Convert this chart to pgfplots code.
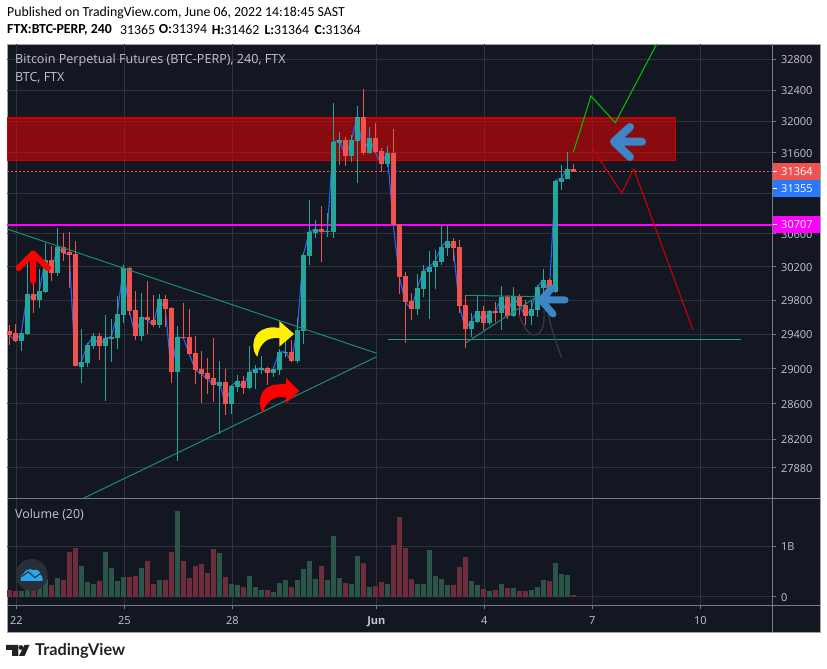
\documentclass[border=0pt]{standalone}
\usepackage{pgfplots}
\usepackage{pgfplotstable}
\usepackage{fontspec}
\pgfplotsset{compat=1.18}
\setmainfont{Open Sans}
\newfontfamily\headfont{Carlito}
\newfontfamily\logofont{Lato}
\definecolor{bg}{HTML}{131722}
\definecolor{gridc}{HTML}{2E323D}
\definecolor{axc}{HTML}{787B86}
\definecolor{txt}{HTML}{C3C6CE}
\definecolor{upc}{HTML}{26A69A}
\definecolor{dnc}{HTML}{EF5350}
\definecolor{upv}{HTML}{2A5548}
\definecolor{dnv}{HTML}{6E2D3B}
\definecolor{trend}{HTML}{1E8A77}
\pgfplotstableread{
i O H L C V
-1 29439 29509 29275 29392 .13
0 29416 29521 29314 29322 .11
1 29326 29420 29210 29416 .11
2 29404 30302 29392 29876 .17
3 29876 30214 29654 29805 .13
4 29805 30174 29714 29911 .33
5 29899 30492 29892 30283 .35
6 30283 30451 30035 30127 .23
7 30127 30670 30090 30440 .37
8 30440 30606 30271 30367 .33
9 30379 30617 29947 30343 .89
10 30355 30512 29031 29035 .97
11 29020 29462 28829 29078 .61
12 29067 29295 29020 29275 .29
13 29264 29416 29229 29380 .25
14 29380 29412 29101 29264 .31
15 29264 29627 28630 29357 .89
16 29345 29580 29078 29369 .57
17 29357 29851 29229 29639 .31
18 29627 30222 29533 30186 .39
19 30186 30199 29627 29674 .39
20 29686 29911 29334 29380 .41
21 29380 29888 29322 29604 .57
22 29604 30031 29404 29568 .71
23 29568 29864 29490 29509 .25
24 29509 29876 29474 29816 .33
25 29816 29864 29490 29697 .33
26 29710 29722 28837 28962 .89
27 28962 29497 27953 29369 1.70
28 29369 29769 29353 29357 .71
29 29369 29697 29159 29171 .37
30 29183 29380 28825 28986 .61
31 28997 29205 28608 28940 .65
32 28951 29124 28710 28882 .47
33 28893 29357 28619 28813 .95
34 28801 29090 28257 28847 .87
35 28847 28997 28471 28596 .39
36 28596 28813 28483 28801 .25
37 28790 28928 28733 28859 .23
38 28859 28916 28710 28779 .19
39 28779 29264 28767 28962 .41
40 28951 29043 28767 28997 .19
41 28986 29147 28940 29009 .13
42 29009 29017 28813 28951 .13
43 28951 29021 28905 28997 .09
44 28986 29229 28928 29194 .27
45 29183 29486 29136 29194 .33
46 29194 29334 29082 29090 .19
47 29090 29592 29067 29451 .33
48 29439 30363 29287 30343 .55
49 30331 31014 30222 30621 .71
50 30610 30768 30549 30658 .35
51 30658 30940 30258 30621 .61
52 30621 30854 30561 30634 .33
53 30621 32232 30549 31736 1.21
54 31724 31862 31448 31762 .37
55 31762 31800 31436 31561 .27
56 31561 31825 31485 31762 .25
57 31749 32194 31224 32053 .81
58 32053 32410 31573 31599 .67
59 31599 31926 31586 31787 .19
60 31787 31977 31599 31610 .21
61 31623 31657 31360 31461 .29
62 31461 31687 31423 31599 .25
63 31599 31900 30704 30707 1.03
64 30719 30719 29876 30079 1.58
65 30090 30138 29303 29780 .97
66 29793 29888 29568 29697 .35
67 29697 30114 29627 29947 .25
68 29935 30222 29840 30150 .25
69 30138 30391 29580 30199 .93
70 30199 30404 29935 30271 .41
71 30258 30707 30222 30440 .35
72 30427 30695 30331 30512 .23
73 30512 30549 30271 30427 .23
74 30440 30525 29646 29734 .59
75 29745 29868 29241 29462 .79
76 29462 29651 29369 29556 .31
77 29544 29864 29533 29674 .23
78 29674 29734 29451 29533 .15
79 29533 29686 29509 29674 .11
80 29674 29780 29544 29651 .13
81 29651 29971 29451 29840 .25
82 29840 29864 29576 29615 .17
83 29615 29959 29604 29851 .17
84 29851 29876 29627 29734 .11
85 29745 29805 29509 29615 .11
86 29615 29805 29509 29697 .13
87 29686 29983 29604 29959 .19
88 29947 30174 29864 30043 .33
89 30043 30054 29793 29899 .31
90 29899 31262 29888 31249 .67
91 31236 31448 31138 31286 .45
92 31273 31610 31273 31398 .43
93 31394 31462 31364 31364 .03
}\candles
\pgfplotsset{
  panel/.style={
    scale only axis, width=765pt, xmin=-1.383, xmax=126.117,
    axis line style={draw=none},
    grid=major, grid style={gridc, line width=0.9pt},
    xtick={0.17,18.17,36.17,60.17,78.17,96.17,114.17},
    tick style={axc, line width=0.8pt},
    clip=true,
    scaled y ticks=false,
    ytick scale label code/.code={},
  },
}
\begin{document}
\begin{tikzpicture}[x=1pt,y=1pt]
\path (0,0) rectangle (827,669);
\begin{scope}[y=-1pt,yshift=669pt]
\fill[bg] (7,44) rectangle (820,632);
\draw[axc!70,line width=0.8pt] (7,44) -- (820,44) -- (820,632) -- (7,632) -- cycle;
\end{scope}
% price panel: logarithmic price scale, as in the reference
\begin{axis}[panel, at={(7pt,171pt)}, anchor=south west, height=454pt,
  y coord trafo/.code={\begingroup\pgfkeys{/pgf/fpu,/pgf/fpu/output format=fixed}\pgfmathparse{ln(#1)*1000}\pgfmathsmuggle\pgfmathresult\endgroup},
  ymin=27546, ymax=33000,
  xticklabels={}, xtick style={draw=none},
  ytick={32800,32400,32000,31600,31100,30600,30200,29800,29400,29000,28600,28200,27880},
  yticklabels={32800,32400,32000,31600,,30600,30200,29800,29400,29000,28600,28200,27880},
  ytick pos=right, yticklabel pos=right, tick align=outside,
  major tick length=4pt,
  yticklabel style={font=\fontsize{11}{13}\selectfont, text=txt, anchor=west, xshift=1.5pt, yshift=-0.5pt},
]
\addplot[draw=red!80!black, line width=1.2pt, fill=red, fill opacity=.5] coordinates {(-1.383,32040)(110.07,32040)(110.07,31502)(-1.383,31502)} --cycle;
\addplot[dnc, line width=0.8pt, dash pattern=on 2pt off 2pt] coordinates {(-1.383,31364)(126.117,31364)};
\addplot[line width=1.2pt, color={rgb,1:red,1;green,0;blue,1}] coordinates {(-1.383,30707)(126.117,30707)};
\addplot[line width=1.1pt, color={rgb,255:red,41;green,98;blue,255}] table[x=i,y=C] {\candles};
\pgfplotsinvokeforeach{0,...,94}{
  \pgfplotstablegetelem{#1}{i}\of\candles \let\Xi\pgfplotsretval
  \pgfplotstablegetelem{#1}{O}\of\candles \let\Xo\pgfplotsretval
  \pgfplotstablegetelem{#1}{H}\of\candles \let\Xh\pgfplotsretval
  \pgfplotstablegetelem{#1}{L}\of\candles \let\Xl\pgfplotsretval
  \pgfplotstablegetelem{#1}{C}\of\candles \let\Xc\pgfplotsretval
  \ifnum\Xc<\Xo\relax \def\cc{dnc}\let\Xbl\Xc\let\Xbh\Xo \else \def\cc{upc}\let\Xbl\Xo\let\Xbh\Xc \fi
  \edef\temp{\noexpand\addplot[forget plot, \cc, line width=1pt] coordinates {(\Xi,\Xl)(\Xi,\Xh)};
             \noexpand\addplot[forget plot, \cc, line width=4.8pt] coordinates {(\Xi,\Xbl)(\Xi,\Xbh)};}
  \temp
}
\end{axis}
% volume panel
\begin{axis}[panel, at={(7pt,64pt)}, anchor=south west, height=107pt,
  ymin=-0.165, ymax=1.958,
  xticklabels={22,25,28,\textbf{Jun},4,7,10},
  xtick pos=bottom, tick align=outside, major tick length=4pt,
  xticklabel style={font=\fontsize{11}{13}\selectfont, text=txt, yshift=-4pt},
  ytick={0,1}, yticklabels={0,1B},
  ytick pos=right, yticklabel pos=right,
  yticklabel style={font=\fontsize{11}{13}\selectfont, text=txt, anchor=west, xshift=1.5pt, yshift=-0.5pt},
]
\addplot[ycomb, upv, line width=5pt, restrict expr to domain={\thisrow{C}-\thisrow{O}}{0:100000}] table[x=i,y=V] {\candles};
\addplot[ycomb, dnv, line width=5pt, restrict expr to domain={\thisrow{C}-\thisrow{O}}{-100000:-0.001}] table[x=i,y=V] {\candles};
\end{axis}
% overlays in reference pixel coordinates
\begin{scope}[y=-1pt,yshift=669pt]
\draw[axc,line width=0.9pt] (7,498) -- (820,498);
\draw[axc,line width=0.9pt] (7,605) -- (820,605);
\draw[axc,line width=0.9pt] (772.3,44) -- (772.3,632);
\begin{scope}
\clip (7,44) rectangle (772,498);
\draw[trend,line width=1pt] (7,229) -- (376.7,353.3);
\draw[trend,line width=1pt] (84,498) -- (376.7,356.7);
\draw[color={rgb,255:red,34;green,160;blue,142},line width=1pt] (388,339.3) -- (741,339.3);
\draw[trend,line width=1pt] (466,342.7) -- (536.7,296.7);
\draw[trend,line width=1pt] (466,295.3) -- (536,296.7);
\draw[color={rgb,255:red,0;green,190;blue,0},line width=1.1pt] (573.3,152.3) -- (591,96) -- (615.3,122.7) -- (656.7,44);
\draw[color={rgb,255:red,205;green,0;blue,0},line width=1.1pt] (591.7,147.3) -- (621.7,193) -- (633.7,169) -- (693,330);
\draw[color={rgb,255:red,58;green,60;blue,64},line width=1.2pt] (519,315) .. controls (525,330) and (530,335) .. (533,335) .. controls (540,335) and (545,330) .. (544,310);
\draw[color={rgb,255:red,58;green,60;blue,64},line width=1.2pt] (548,314) -- (553,333) -- (561.5,358);
% arrows
\draw[red,line width=6pt,line cap=round,line join=round] (18.5,268) -- (33,253.5) -- (48,268) (33,253.5) -- (33,281);
\draw[color={rgb,255:red,61;green,133;blue,198},line width=8pt,line cap=round,line join=round] (630,127) -- (614,141.7) -- (630,157) (614,141.7) -- (642,141.7);
\draw[color={rgb,255:red,61;green,133;blue,198},line width=7pt,line cap=round,line join=round] (552,288) -- (541,300) -- (553,314) (541,300) -- (565,300);
\fill[yellow] (279.3,321) -- (294,334) -- (279.3,346.7) -- (279.3,338) .. controls (268,337) and (260,342) .. (257.3,356.7) .. controls (251,350) and (252,335) .. (262,330) .. controls (268,327) and (274,327) .. (279.3,328) -- cycle;
\fill[red] (286,378) -- (299.3,391) -- (286,403.3) -- (286,397) .. controls (275,396) and (266,400) .. (262.7,413.3) .. controls (258,405) and (259,392) .. (268,387) .. controls (274,384) and (280,384) .. (286,384.3) -- cycle;
\end{scope}
% text
\node[anchor=west,inner sep=0pt,text=txt,font=\fontsize{12.6}{15}\selectfont] at (15,60.5) {Bitcoin Perpetual Futures (BTC-PERP), 240, FTX};
\node[anchor=west,inner sep=0pt,text=txt,font=\fontsize{12.5}{15}\selectfont] at (15,78) {BTC, FTX};
\node[anchor=west,inner sep=0pt,text=txt,font=\fontsize{12.4}{15}\selectfont] at (15,515) {Volume (20)};
\node[anchor=west,inner sep=0pt,font=\headfont\fontsize{13.8}{16}\selectfont] at (7,12.5) {Published on TradingView.com, June 06, 2022 14:18:45 SAST};
\begin{scope}[every node/.style={anchor=west,inner sep=0pt,font=\headfont\fontsize{13.8}{16}\selectfont}]
\node at (7,29.5) {\textbf{FTX:BTC-PERP, 240}};
\node at (120,29.5) {31365};
\node at (158.7,29.5) {\textbf{O:}31394};
\node at (211.7,29.5) {\textbf{H:}31462};
\node at (264.3,29.5) {\textbf{L:}31364};
\node at (314.3,29.5) {\textbf{C:}31364};
\end{scope}
% price labels
\fill[dnc] (772.5,163.3) rectangle (820,179.7);
\fill[color={rgb,255:red,41;green,121;blue,255}] (772.5,180) rectangle (820,196.7);
\fill[color={rgb,1:red,1;green,0;blue,1}] (772.5,216) rectangle (820,232.7);
\draw[white,line width=0.8pt] (772.5,171.5) -- (776.5,171.5) (772.5,188.5) -- (776.5,188.5) (772.5,224.5) -- (776.5,224.5);
\node[anchor=west,inner sep=0pt,text=white,font=\fontsize{11}{13}\selectfont] at (781,171.5) {31364};
\node[anchor=west,inner sep=0pt,text=white,font=\fontsize{11}{13}\selectfont] at (781,188.5) {31355};
\node[anchor=west,inner sep=0pt,text=white,font=\fontsize{11}{13}\selectfont] at (781,224.5) {30707};
% round badge
\fill[color={rgb,255:red,42;green,46;blue,57}] (31.7,575) circle (16);
\fill[color={rgb,255:red,41;green,166;blue,240}] (20.7,581) .. controls (20.7,576) and (22,574) .. (24,573) .. controls (25,570) and (30,568) .. (33,570) -- (37,570) .. controls (40,571) and (41,574) .. (40.5,575) .. controls (43,576) and (43,581) .. (42,581) -- cycle;
\draw[color={rgb,255:red,42;green,46;blue,57},line width=1.1pt] (21.7,576.7) -- (28.3,571.7) -- (35,577.7) -- (40.7,573.3);
% logo
\fill[color={rgb,255:red,34;green,34;blue,34}] (6,645) -- (18.3,645) -- (18.3,656) -- (12,656) -- (12,650) -- (6,650) -- cycle;
\fill[color={rgb,255:red,34;green,34;blue,34}] (21,647.5) circle (2.4);
\fill[color={rgb,255:red,34;green,34;blue,34}] (19,656) -- (24.5,645) -- (29.5,645) -- (24.5,656) -- cycle;
\node[anchor=west,inner sep=0pt,text={rgb,255:red,34;green,34;blue,34},font=\logofont\bfseries\fontsize{16.3}{20}\selectfont] at (35,650.5) {TradingView};
\end{scope}
\end{tikzpicture}
\end{document}
